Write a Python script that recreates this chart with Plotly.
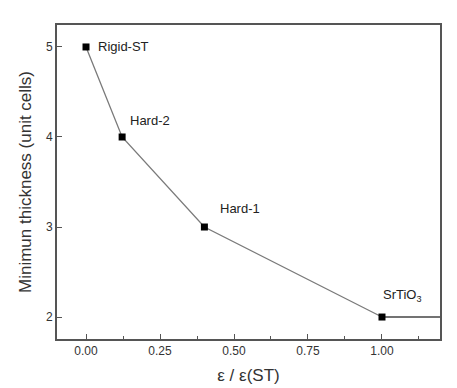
import plotly.graph_objects as go

# Данные: относительная диэлектрическая проницаемость и минимальная толщина
eps_ratio = [0.0, 0.122, 0.40, 1.0]
min_thickness = [5, 4, 3, 2]
point_labels = ["Rigid-ST", "Hard-2", "Hard-1", "SrTiO<sub>3</sub>"]

# Горизонтальный хвост после SrTiO3
tail_x = [1.0, 1.25]
tail_y = [2, 2]

x_ticks = [0.0, 0.25, 0.50, 0.75, 1.00]
y_ticks = [2, 3, 4, 5]

axis_color = "#555555"
font_family = "Liberation Sans, Arial, sans-serif"

fig = go.Figure()

fig.add_trace(
    go.Scatter(
        x=tail_x,
        y=tail_y,
        mode="lines",
        line=dict(color="#444444", width=1.6),
        cliponaxis=True,
        showlegend=False,
    )
)

fig.add_trace(
    go.Scatter(
        x=eps_ratio,
        y=min_thickness,
        mode="lines+markers",
        line=dict(color="#7a7a7a", width=1.3),
        marker=dict(symbol="square", size=7, color="black"),
        cliponaxis=False,
        showlegend=False,
    )
)

# Смещения подписей относительно точек (в пикселях)
label_offsets = [(10, 0), (6, -16), (14, -19), (-1, -22)]
for x, y, text, (dx, dy) in zip(eps_ratio, min_thickness, point_labels, label_offsets):
    fig.add_annotation(
        x=x,
        y=y,
        text=text,
        showarrow=False,
        xanchor="left",
        yanchor="middle",
        xshift=dx,
        yshift=-dy,
        font=dict(size=13, color="#222222", family=font_family),
    )

fig.update_layout(
    width=457,
    height=388,
    plot_bgcolor="white",
    paper_bgcolor="white",
    margin=dict(l=49, r=25, t=17, b=57),
    font=dict(family=font_family, color="#333333"),
)

fig.update_xaxes(
    range=[-0.098, 1.196],
    automargin=False,
    tickvals=x_ticks,
    ticktext=[f"{v:.2f}" for v in x_ticks],
    ticks="inside",
    ticklen=5,
    tickwidth=1.2,
    tickcolor=axis_color,
    minor=dict(dtick=0.125, tick0=0.125, ticks="inside", ticklen=3, tickcolor=axis_color),
    showline=True,
    linecolor=axis_color,
    linewidth=2,
    mirror=True,
    showgrid=False,
    zeroline=False,
    tickfont=dict(size=12, color="#333333"),
    title=dict(text="ε / ε(ST)", font=dict(size=17, color="#333333"), standoff=12),
)

fig.update_yaxes(
    range=[1.756, 5.244],
    automargin=False,
    tickvals=y_ticks,
    ticks="inside",
    ticklen=5,
    tickwidth=1.2,
    tickcolor=axis_color,
    showline=True,
    linecolor=axis_color,
    linewidth=2,
    mirror=True,
    showgrid=False,
    zeroline=False,
    tickfont=dict(size=12, color="#333333"),
    title=dict(text="Minimun thickness (unit cells)", font=dict(size=17, color="#333333"), standoff=10),
)

fig.write_html("out.html")
